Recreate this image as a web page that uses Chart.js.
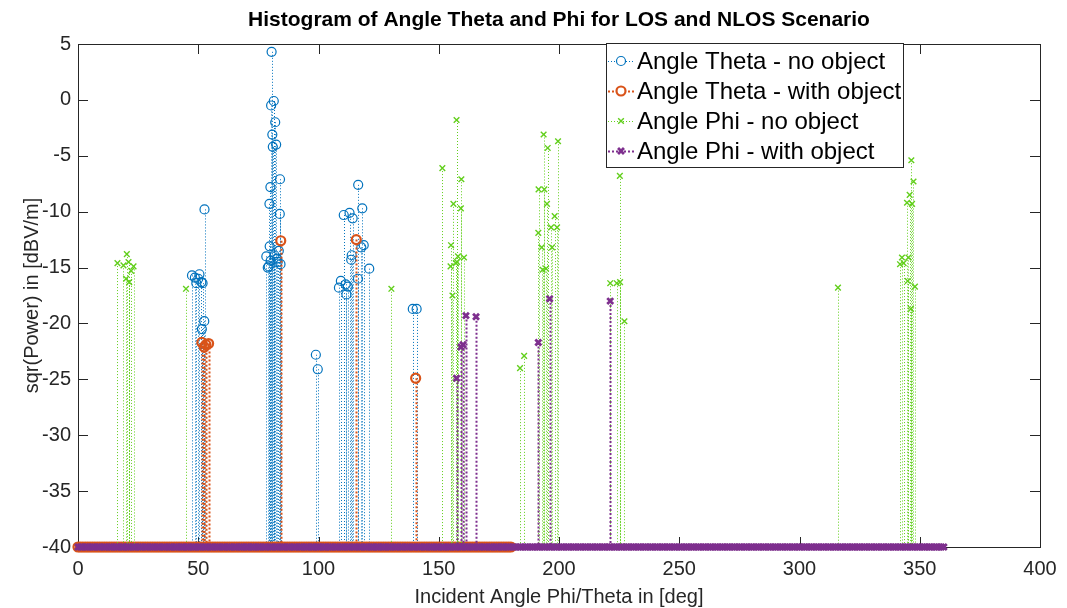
<!DOCTYPE html>
<html>
<head>
<meta charset="utf-8">
<title>Histogram of Angle Theta and Phi</title>
<script src="https://cdn.jsdelivr.net/npm/chart.js@4.4.1/dist/chart.umd.min.js"></script>
<style>
    html, body { margin: 0; padding: 0; background: #fff; }
    canvas { display: block; }
</style>
</head>
<body>
<canvas id="angleChart" width="1067" height="608"></canvas>
<script>
// peaks that rise above the noise floor: angle [deg] / level [dBV/m]
const theta_no_object_angles = [
    47.4, 48.6, 49.2, 50.0, 50.5, 51.3, 51.5, 51.8, 52.5, 52.6,
    78.3, 78.9, 79.3, 79.6, 79.7, 80.0, 80.1, 80.3, 80.5, 80.8, 81.0, 81.4, 81.7,
    82.0, 82.4, 82.8, 83.0, 83.5, 83.9, 84.0, 84.2,
    98.9, 99.7,
    108.5, 109.3, 110.5, 111.3, 111.6, 112.2, 112.9, 113.6, 113.8, 114.2,
    116.4, 116.5, 117.8, 118.2, 118.8, 121.1,
    139.2, 140.8
];
const theta_no_object_values = [
    -15.7, -15.9, -16.4, -16.0, -15.6, -16.3, -20.5, -16.4, -19.8, -9.8,
    -14.0, -15.0, -14.9, -9.3, -13.1, -7.8, -14.4, -0.5, 4.3, -3.1, -4.2, -0.1, -13.9,
    -2.0, -4.0, -14.2, -14.5, -13.5, -10.2, -7.1, -14.7,
    -22.8, -24.1,
    -16.8, -16.2, -10.3, -16.5, -17.4, -16.7, -10.1, -14.3, -13.9, -10.6,
    -16.0, -7.6, -13.2, -9.7, -13.0, -15.1,
    -18.7, -18.7
];

const theta_with_object_angles = [51.5, 52.5, 53.2, 54.3, 84.3, 115.7, 140.4];
const theta_with_object_values = [-21.7, -22.1, -21.9, -21.8, -12.6, -12.5, -24.9];

const phi_no_object_angles = [
    16.4, 18.9, 20.0, 20.3, 21.0, 21.3, 22.1, 23.1,
    44.9, 130.3,
    151.5, 154.9, 155.1, 155.7, 156.1, 157.1, 157.4, 157.6, 158.0, 159.2, 159.4, 160.5,
    183.8, 185.5,
    191.4, 191.5, 192.8, 193.2, 193.6, 193.9, 194.6, 195.0, 195.3, 196.7, 197.1, 198.2, 199.2, 199.6,
    221.3, 224.0, 225.3, 225.4, 227.2,
    316.0,
    341.8, 342.6, 343.3, 344.7, 345.0, 345.3, 345.8, 346.3, 346.5, 346.8, 347.4, 348.0
];
const phi_no_object_values = [
    -14.6, -14.8, -16.0, -13.8, -14.5, -16.3, -15.3, -14.9,
    -16.9, -16.9,
    -6.1, -14.9, -13.0, -17.5, -9.3, -14.6, -1.8, -14.5, -14.0, -9.7, -7.1, -14.1,
    -24.0, -22.9,
    -11.9, -8.0, -13.2, -15.2, -3.1, -8.0, -15.1, -9.3, -4.3, -11.4, -13.2, -10.4, -11.4, -3.7,
    -16.4, -16.4, -6.8, -16.3, -19.8,
    -16.8,
    -14.7, -14.1, -14.6, -9.2, -16.2, -14.1, -8.5, -18.7, -5.4, -9.3, -7.3, -16.7
];

const phi_with_object_angles = [157.4, 159.2, 160.1, 161.3, 165.5, 191.4, 196.1, 221.3];
const phi_with_object_values = [-24.9, -22.1, -21.9, -19.3, -19.4, -21.7, -17.8, -18.0];

// every other angle of the sweep sits on the floor
const FLOOR = -40;
const THETA_SWEEP_END = 180;
const PHI_SWEEP_END = 360;

const x_ticks = [0, 50, 100, 150, 200, 250, 300, 350, 400];
const y_ticks = [-40, -35, -30, -25, -20, -15, -10, -5, 0, 5];

const TITLE = 'Histogram of Angle Theta and Phi for LOS and NLOS Scenario';
const FONT = "'Liberation Sans', Arial, Helvetica, sans-serif";
const AXIS_COLOR = '#262626';

const to_points = (angles, values, sweep_end) => {
    const points = [];
    for (let a = 0; a <= sweep_end; a++) {
        points.push({ x: a, y: FLOOR });
    }
    angles.forEach((a, i) => points.push({ x: a, y: values[i] }));
    return points;
};

const series = [
    {
        label: 'Angle Theta - no object',
        data: to_points(theta_no_object_angles, theta_no_object_values, THETA_SWEEP_END),
        color: '#0072bd', style: 'circle', radius: 4.5, width: 1.2,
        stem_width: 1, stem_dash: [1, 2], order: 4
    },
    {
        label: 'Angle Theta - with object',
        data: to_points(theta_with_object_angles, theta_with_object_values, THETA_SWEEP_END),
        color: '#d95319', style: 'circle', radius: 4.5, width: 2.2,
        stem_width: 2, stem_dash: [2, 2], order: 3
    },
    {
        label: 'Angle Phi - no object',
        data: to_points(phi_no_object_angles, phi_no_object_values, PHI_SWEEP_END),
        color: '#62cf1c', style: 'crossRot', radius: 4, width: 1.4,
        stem_width: 1, stem_dash: [1, 2], order: 2
    },
    {
        label: 'Angle Phi - with object',
        data: to_points(phi_with_object_angles, phi_with_object_values, PHI_SWEEP_END),
        color: '#7e2f8e', style: 'crossRot', radius: 4.2, width: 2.8,
        stem_width: 2, stem_dash: [2, 2], order: 1
    }
];

// dotted stems from each marker down to the floor
const stems = {
    id: 'stems',
    beforeDatasetDraw(chart, args) {
        const s = series[args.index];
        const base = chart.scales.y.getPixelForValue(FLOOR);
        const ctx = chart.ctx;
        ctx.save();
        ctx.strokeStyle = s.color;
        ctx.lineWidth = s.stem_width;
        ctx.setLineDash(s.stem_dash);
        ctx.beginPath();
        args.meta.data.forEach(el => {
            if (base - el.y < 1) return;
            ctx.moveTo(Math.round(el.x) + 0.5, el.y);
            ctx.lineTo(Math.round(el.x) + 0.5, base);
        });
        ctx.stroke();
        ctx.restore();
    }
};

// axes box with inward tick marks, title centred over the axes
const axes_box = {
    id: 'axes_box',
    beforeDatasetsDraw(chart) {
        const { ctx, chartArea: a, scales } = chart;
        const tick = 10;
        ctx.save();
        ctx.strokeStyle = AXIS_COLOR;
        ctx.lineWidth = 1;
        ctx.strokeRect(Math.round(a.left) + 0.5, Math.round(a.top) + 0.5,
            Math.round(a.right - a.left), Math.round(a.bottom - a.top));
        ctx.beginPath();
        x_ticks.forEach(v => {
            const px = Math.round(scales.x.getPixelForValue(v)) + 0.5;
            ctx.moveTo(px, a.bottom); ctx.lineTo(px, a.bottom - tick);
            ctx.moveTo(px, a.top); ctx.lineTo(px, a.top + tick);
        });
        y_ticks.forEach(v => {
            const py = Math.round(scales.y.getPixelForValue(v)) + 0.5;
            ctx.moveTo(a.left, py); ctx.lineTo(a.left + tick, py);
            ctx.moveTo(a.right, py); ctx.lineTo(a.right - tick, py);
        });
        ctx.stroke();

        ctx.fillStyle = '#000';
        ctx.font = `bold 21px ${FONT}`;
        ctx.textAlign = 'center';
        ctx.textBaseline = 'middle';
        ctx.fillText(TITLE, (a.left + a.right) / 2, 20);
        ctx.restore();
    }
};

// boxed legend in the upper right corner
const legend_box = {
    id: 'legend_box',
    afterDraw(chart) {
        const ctx = chart.ctx;
        const left = 606, top = 43, w = 297, h = 124, row = 30;
        ctx.save();
        ctx.fillStyle = '#fff';
        ctx.fillRect(left, top, w, h);
        ctx.strokeStyle = AXIS_COLOR;
        ctx.lineWidth = 1;
        ctx.strokeRect(left + 0.5, top + 0.5, w, h);
        ctx.font = `24px ${FONT}`;
        ctx.textBaseline = 'middle';
        series.forEach((s, i) => {
            const cy = top + 18 + i * row;
            ctx.strokeStyle = s.color;
            ctx.lineWidth = s.stem_width;
            ctx.setLineDash(s.stem_dash);
            ctx.beginPath();
            ctx.moveTo(left + 2, cy + 0.5);
            ctx.lineTo(left + 28, cy + 0.5);
            ctx.stroke();
            ctx.setLineDash([]);
            ctx.lineWidth = s.width;
            ctx.fillStyle = '#fff';
            Chart.helpers.drawPoint(ctx, {
                pointStyle: s.style, radius: s.radius, borderWidth: s.width, rotation: 0
            }, left + 15, cy);
            ctx.fillStyle = '#000';
            ctx.fillText(s.label, left + 31, cy + 1);
        });
        ctx.restore();
    }
};

new Chart(document.getElementById('angleChart').getContext('2d'), {
    type: 'scatter',
    data: {
        datasets: series.map(s => ({
            label: s.label,
            data: s.data,
            order: s.order,
            pointStyle: s.style,
            pointRadius: s.radius,
            pointBorderWidth: s.width,
            pointBorderColor: s.color,
            pointBackgroundColor: 'rgba(0,0,0,0)',
            showLine: false,
            clip: false
        }))
    },
    options: {
        responsive: false,
        animation: false,
        devicePixelRatio: 1,
        layout: { padding: { left: 0, right: 27, top: 44, bottom: 0 } },
        plugins: {
            legend: { display: false },
            tooltip: { enabled: false },
            title: { display: false }
        },
        scales: {
            x: {
                type: 'linear',
                min: 0,
                max: 400,
                afterBuildTicks: axis => { axis.ticks = x_ticks.map(v => ({ value: v })); },
                afterFit: axis => { axis.height = 61; },
                grid: { display: false, drawTicks: false },
                border: { display: false },
                ticks: {
                    color: AXIS_COLOR,
                    font: { family: FONT, size: 20 },
                    padding: 10,
                    maxRotation: 0
                },
                title: {
                    display: true,
                    text: 'Incident Angle Phi/Theta in [deg]',
                    color: AXIS_COLOR,
                    font: { family: FONT, size: 20 },
                    padding: { top: 0, bottom: -1 }
                }
            },
            y: {
                type: 'linear',
                min: -40,
                max: 5,
                afterBuildTicks: axis => { axis.ticks = y_ticks.map(v => ({ value: v })); },
                afterFit: axis => { axis.width = 78; },
                grid: { display: false, drawTicks: false },
                border: { display: false },
                ticks: {
                    color: AXIS_COLOR,
                    font: { family: FONT, size: 20 },
                    padding: 7
                },
                title: {
                    display: true,
                    text: 'sqr(Power) in [dBV/m]',
                    color: AXIS_COLOR,
                    font: { family: FONT, size: 20 },
                    padding: { top: 20, bottom: 0 }
                }
            }
        }
    },
    plugins: [axes_box, stems, legend_box]
});
</script>
</body>
</html>
